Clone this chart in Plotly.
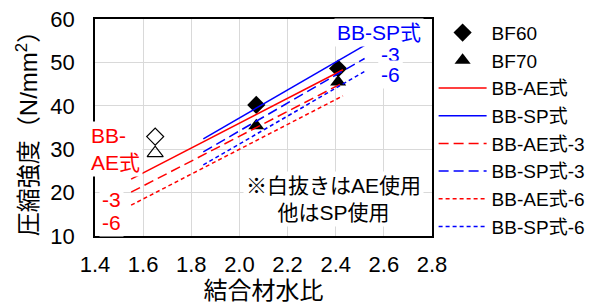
import plotly.graph_objects as go

# ---- data ----
bf60_x = [2.07, 2.41]
bf60_y = [40.2, 48.6]
bf70_x = [2.07, 2.41]
bf70_y = [35.4, 45.5]
open60_x = [1.65]
open60_y = [32.9]
open70_x = [1.65]
open70_y = [29.1]

ae_x = [1.55, 2.43]
ae_y = [23.1, 48.3]
ae3_y = [20.1, 45.3]
ae6_y = [17.1, 42.3]

sp_x = [1.85, 2.52]
sp_y = [32.4, 53.9]
sp3_y = [29.4, 50.9]
sp6_y = [26.4, 47.9]

x_ticks = [1.4, 1.6, 1.8, 2.0, 2.2, 2.4, 2.6, 2.8]
y_ticks = [10, 20, 30, 40, 50, 60]

FONT = "Liberation Sans, Arial, Noto Sans CJK JP"
RED = "#ff0000"
BLUE = "#0000ff"

fig = go.Figure()
fig.add_trace(go.Scatter(x=bf60_x, y=bf60_y, mode="markers", name="BF60",
                         marker=dict(symbol="diamond", size=14, color="black")))
fig.add_trace(go.Scatter(x=bf70_x, y=bf70_y, mode="markers", name="BF70",
                         marker=dict(symbol="triangle-up", size=14, color="black")))
fig.add_trace(go.Scatter(x=open60_x, y=open60_y, mode="markers", showlegend=False,
                         marker=dict(symbol="diamond-open", size=13, color="black",
                                     line=dict(width=1.2))))
fig.add_trace(go.Scatter(x=open70_x, y=open70_y, mode="markers", showlegend=False,
                         marker=dict(symbol="triangle-up-open", size=14, color="black",
                                     line=dict(width=1.2))))

lines = [
    ("BB-AE式", ae_x, ae_y, RED, "solid"),
    ("BB-SP式", sp_x, sp_y, BLUE, "solid"),
    ("BB-AE式-3", ae_x, ae3_y, RED, "10px,5px"),
    ("BB-SP式-3", sp_x, sp3_y, BLUE, "10px,5px"),
    ("BB-AE式-6", ae_x, ae6_y, RED, "4px,3px"),
    ("BB-SP式-6", sp_x, sp6_y, BLUE, "4px,3px"),
]
for name, xs, ys, col, dash in lines:
    fig.add_trace(go.Scatter(x=xs, y=ys, mode="lines", name=name,
                             line=dict(color=col, width=1.5, dash=dash)))

ann_font = dict(family=FONT, size=21)
annotations = [
    dict(x=2.58, y=57.0, text="BB-SP式", font=dict(color=BLUE, **ann_font)),
    dict(x=2.626, y=51.9, text="-3", font=dict(color=BLUE, **ann_font)),
    dict(x=2.626, y=47.1, text="-6", font=dict(color=BLUE, **ann_font)),
    dict(x=1.47, y=18.3, text="-3", font=dict(color=RED, **ann_font)),
    dict(x=1.47, y=13.2, text="-6", font=dict(color=RED, **ann_font)),
    dict(x=2.39, y=18.5, text="※白抜きはAE使用<br>他はSP使用", align="center",
         font=dict(color="black", **ann_font)),
]
for a in annotations:
    a.update(xref="x", yref="y", showarrow=False, bgcolor="white", borderpad=2)
# label that sits over the left axis line (outside x range -> paper ref)
annotations.append(dict(x=-0.021, y=0.4, xref="paper", yref="paper",
                        xanchor="left", yanchor="middle", align="left",
                        text="BB-<br>AE式", showarrow=False, bgcolor="white",
                        borderpad=2, font=dict(color=RED, **ann_font)))

fig.update_layout(
    width=609, height=305,
    margin=dict(l=95, r=177, t=19, b=69),
    paper_bgcolor="white", plot_bgcolor="white",
    font=dict(family=FONT, size=21, color="black"),
    annotations=annotations,
    showlegend=True,
    legend=dict(xref="container", yref="container",
                x=0.712, xanchor="left", y=0.955, yanchor="top",
                traceorder="normal", maxheight=305, itemwidth=48,
                font=dict(family=FONT, size=19, color="black"),
                bgcolor="rgba(0,0,0,0)"),
    xaxis=dict(range=[1.4, 2.8], tickvals=x_ticks,
               ticktext=[f"{v:.1f}" for v in x_ticks],
               showgrid=True, gridcolor="#d9d9d9", gridwidth=1,
               showline=True, linecolor="black", linewidth=1.5, mirror=True,
               ticks="", ticklabelstandoff=8, zeroline=False,
               tickfont=dict(size=22), automargin=False,
               title=dict(text="結合材水比", font=dict(size=24), standoff=2)),
    yaxis=dict(range=[10, 60], tickvals=y_ticks,
               showgrid=True, gridcolor="#d9d9d9", gridwidth=1,
               showline=True, linecolor="black", linewidth=1.5, mirror=True,
               ticks="outside", ticklen=14, tickcolor="rgba(0,0,0,0)",
               zeroline=False,
               tickfont=dict(size=22), automargin=False,
               title=dict(text="圧縮強度（N/mm<sup>2</sup>）", font=dict(size=24), standoff=6)),
)

fig.write_html("out.html", config={"displayModeBar": False},
               post_script="document.body.style.margin='0';document.body.style.overflow='hidden';")
